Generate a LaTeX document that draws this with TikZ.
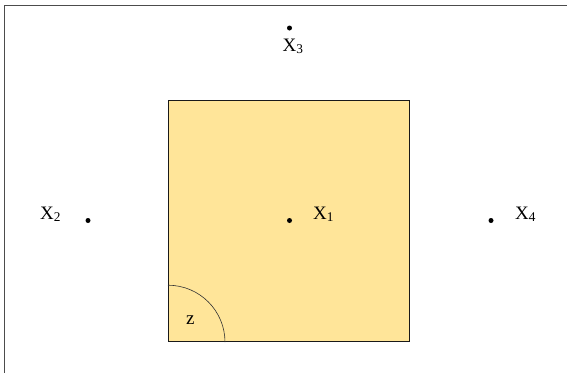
\documentclass[tikz,border=0pt]{standalone}
\usepackage{fontspec}
\setmainfont{Liberation Serif}
\begin{document}
\begin{tikzpicture}[x=1pt,y=-1pt,
  lbl/.style={anchor=base west,inner sep=0pt,font=\fontsize{19}{22}\selectfont},
  pt/.style={circle,fill=black,inner sep=0pt,minimum size=5pt},
  frameline/.style={draw=black!70,line width=1.8pt}]
\useasboundingbox (0,0) rectangle (567,373);
% frame
\coordinate (fTL) at (4.5,5.5);
\coordinate (fTR) at (567,5.5);
\coordinate (fBL) at (4.5,373);
\draw[frameline] (fTR) -- (fTL) -- (fBL);
% box
\node[draw=black!90,line width=1.2pt,fill={rgb,255:red,255;green,229;blue,153},
  minimum width=241pt,minimum height=241pt,inner sep=0pt,anchor=north west] (box) at (168,100) {};
\draw[line width=0.6pt,black!80] ([yshift=57pt]box.south west) arc[start angle=90,end angle=0,radius=57pt];
\node[lbl] (z) at (186,324) {z};
% points
\node[pt] (p1) at (289.5,220.5) {};
\node[pt] (p2) at (88,220.5) {};
\node[pt] (p3) at (289.5,28) {};
\node[pt] (p4) at (491,220.5) {};
\node[lbl] (l1) at (313,219) {X\textsubscript{1}};
\node[lbl] (l2) at (40,219) {X\textsubscript{2}};
\node[lbl] (l3) at (282.5,51) {X\textsubscript{3}};
\node[lbl] (l4) at (515,219) {X\textsubscript{4}};
\end{tikzpicture}
\end{document}
